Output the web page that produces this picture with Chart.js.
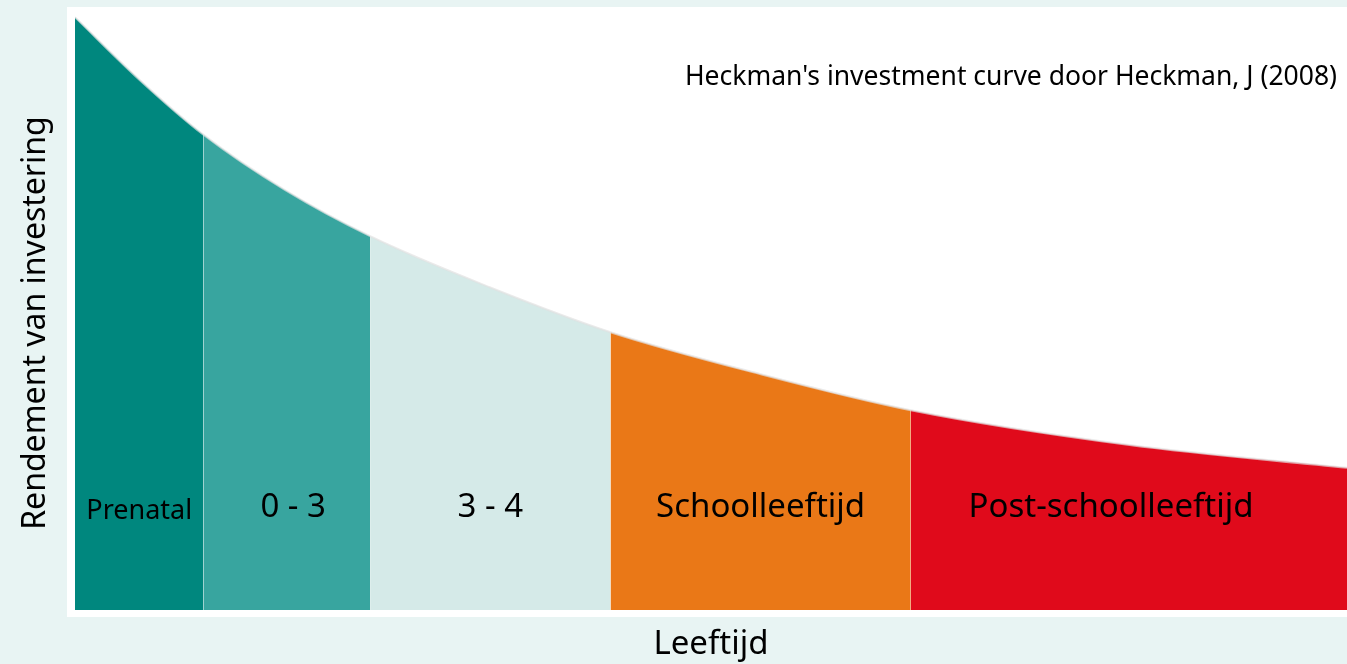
<!DOCTYPE html>
<html>
<head>
<meta charset="utf-8">
<script src="https://cdn.jsdelivr.net/npm/chart.js@4"></script>
<style>
  html, body { margin: 0; padding: 0; background: #e8f4f3; }
  #wrap { width: 1347px; height: 664px; }
</style>
</head>
<body>
<div id="wrap"><canvas id="heckman"></canvas></div>
<script>
// curve (age axis 0-100, return axis 0-100)
const ages = [0, 5.1, 10.1, 16.5, 23.2, 32.6, 42.1, 53.9, 65.7, 82.9, 100];
const returns = [98.8, 88.3, 79.2, 70, 62.3, 53.8, 46.3, 39.3, 33.3, 27.5, 23.7];

// stages
const stageLabels = ['Prenatal', '0 - 3', '3 - 4', 'Schoolleeftijd', 'Post-schoolleeftijd'];
const stageEnds = [10.1, 23.2, 42.1, 65.7, 100];
const stageColors = ['#00877e', '#38a59f', '#d5eae8', '#ea7817', '#e00a1b'];

const sourceText = "Heckman's investment curve door Heckman, J (2008)";
const yTitle = 'Rendement van investering';
const fontFamily = "'Noto Sans', 'Open Sans', sans-serif";

function stageIndex(x) {
    for (let i = 0; i < stageEnds.length; i++) {
        if (x < stageEnds[i] - 0.001) return i;
    }
    return stageEnds.length - 1;
}

// achtergrond + wit paneel
const panelPlugin = {
    id: 'panel',
    beforeDraw(chart) {
        const ctx = chart.ctx;
        ctx.save();
        ctx.fillStyle = '#e8f4f3';
        ctx.fillRect(0, 0, chart.width, chart.height);
        ctx.fillStyle = '#ffffff';
        ctx.fillRect(67, 7, chart.width - 67, 610);
        ctx.restore();
    }
};

// teksten in de vlakken, y-titel en de bron
const labelPlugin = {
    id: 'stageLabels',
    afterDatasetsDraw(chart) {
        const ctx = chart.ctx;
        const xs = chart.scales.x, ys = chart.scales.y;
        ctx.save();
        ctx.fillStyle = '#000';
        ctx.textBaseline = 'middle';
        ctx.textAlign = 'center';
        let start = 0;
        stageLabels.forEach((lbl, i) => {
            let mid = (start + stageEnds[i]) / 2;
            if (i === 1) mid += 0.5;
            if (i === 4) mid -= 1.4;   // iets naar links, zoals in het origineel
            ctx.font = (i === 0 ? '27px ' : '33px ') + fontFamily;
            ctx.fillText(lbl, xs.getPixelForValue(mid), ys.getPixelForValue(i === 0 ? 16.5 : 17));
            start = stageEnds[i];
        });

        // y-as titel
        ctx.save();
        ctx.translate(36, 323);
        ctx.rotate(-Math.PI / 2);
        ctx.font = '32px ' + fontFamily;
        ctx.fillText(yTitle, 0, 0);
        ctx.restore();

        ctx.textAlign = 'right';
        ctx.font = '26.5px ' + fontFamily;
        ctx.fillText(sourceText, chart.width - 10, 77);
        ctx.restore();
    }
};

const points = ages.map((a, i) => ({ x: a, y: returns[i] }));

new Chart(document.getElementById('heckman'), {
    type: 'line',
    data: {
        datasets: [{
            data: points,
            fill: 'origin',
            borderColor: 'rgba(225,225,225,0.7)',
            borderWidth: 2,
            pointRadius: 0,
            cubicInterpolationMode: 'monotone',
            segment: {
                backgroundColor: c => stageColors[stageIndex(c.p0.parsed.x)]
            }
        }]
    },
    options: {
        responsive: true,
        maintainAspectRatio: false,
        animation: false,
        layout: { padding: { left: 75, right: 0, top: 10, bottom: 0 } },
        plugins: {
            legend: { display: false },
            tooltip: { enabled: false }
        },
        scales: {
            x: {
                type: 'linear',
                min: 0,
                max: 100,
                grid: { display: false, drawTicks: false },
                border: { display: false },
                ticks: { display: false },
                title: {
                    display: true,
                    text: 'Leeftijd',
                    color: '#000',
                    font: { size: 33, family: fontFamily },
                    padding: { top: 14.4, bottom: 0 }
                }
            },
            y: {
                display: false,
                min: 0,
                max: 100
            }
        }
    },
    plugins: [panelPlugin, labelPlugin]
});
</script>
</body>
</html>
